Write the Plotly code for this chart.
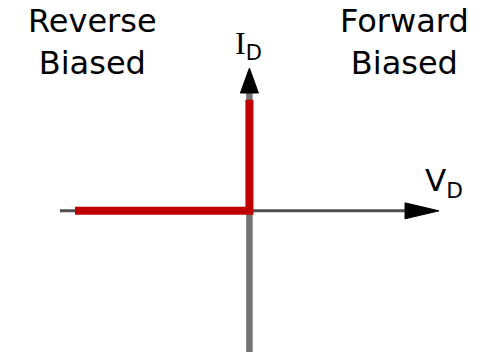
import plotly.graph_objects as go

# ---- data (diode ideal characteristic, normalised units) ----
curve_v = [-1.0, 0.0, 0.0]      # V_D values of the red characteristic
curve_i = [0.0, 0.0, 1.0]       # I_D values of the red characteristic
v_range = [-1.43, 1.385]        # visible V_D range
i_range = [-1.29, 1.90]         # visible I_D range
h_axis_extent = [-1.086, 1.087] # V_D axis: tail, arrow tip
v_axis_extent = [-1.272, 1.287] # I_D axis: tail, arrow tip
region_labels = ["Reverse<br>Biased", "Forward<br>Biased"]
x_label = 'V<sub style="font-size:19px">D</sub>'
y_label = '<span style="font-family:Liberation Serif;font-size:32px">I</span><sub style="font-size:19px">D</sub>'

W, H = 491, 354
px_x = W / (v_range[1] - v_range[0])   # pixels per V unit
px_y = H / (i_range[1] - i_range[0])   # pixels per I unit

# arrowhead geometry (pixels)
up_len, up_half = 25, 9
rt_len, rt_half = 34, 8

up_tip = v_axis_extent[1]
up_base = up_tip - up_len / px_y
rt_tip = h_axis_extent[1]
rt_base = rt_tip - rt_len / px_x

shapes = [
    dict(type="line", xref="x", yref="y", x0=h_axis_extent[0], x1=rt_base + 2 / px_x, y0=0, y1=0,
         line=dict(color="#4f4f4f", width=3), layer="below"),
    dict(type="line", xref="x", yref="y", x0=0, x1=0, y0=v_axis_extent[0], y1=up_base + 2 / px_y,
         line=dict(color="#737373", width=6.5), layer="below"),
    dict(type="path", xref="x", yref="y",
         path=f"M {-up_half/px_x},{up_base} L {up_half/px_x},{up_base} L 0,{up_tip} Z",
         fillcolor="#000000", line=dict(color="#000000", width=1), layer="below"),
    dict(type="path", xref="x", yref="y",
         path=f"M {rt_base},{-rt_half/px_y} L {rt_base},{rt_half/px_y} L {rt_tip},0 Z",
         fillcolor="#000000", line=dict(color="#000000", width=1), layer="below"),
]

fig = go.Figure()
fig.add_trace(go.Scatter(x=curve_v, y=curve_i, mode="lines",
                         line=dict(color="#C00000", width=8), hoverinfo="skip",
                         showlegend=False))

font = dict(family="DejaVu Sans", size=32, color="#000000")
annotations = [
    dict(text=region_labels[0], x=92 / W, y=1 - 42 / H, xref="paper", yref="paper",
         showarrow=False, xanchor="center", yanchor="middle", font=font),
    dict(text=region_labels[1], x=404 / W, y=1 - 42 / H, xref="paper", yref="paper",
         showarrow=False, xanchor="center", yanchor="middle", font=font),
    dict(text=y_label, x=249 / W, y=1 - 45 / H, xref="paper", yref="paper",
         showarrow=False, xanchor="center", yanchor="middle",
         font=dict(family="DejaVu Sans", size=30, color="#000000")),
    dict(text=x_label, x=444 / W, y=1 - 183 / H, xref="paper", yref="paper",
         showarrow=False, xanchor="center", yanchor="middle",
         font=dict(family="DejaVu Sans", size=31, color="#000000")),
]

fig.update_layout(
    width=W, height=H,
    margin=dict(l=0, r=0, t=0, b=0),
    paper_bgcolor="#ffffff", plot_bgcolor="#ffffff",
    xaxis=dict(range=v_range, visible=False, fixedrange=True),
    yaxis=dict(range=i_range, visible=False, fixedrange=True),
    shapes=shapes, annotations=annotations,
    showlegend=False,
)

fig.write_html("out.html", config=dict(displayModeBar=False),
               post_script="document.body.style.margin='0';document.body.style.overflow='hidden';")
